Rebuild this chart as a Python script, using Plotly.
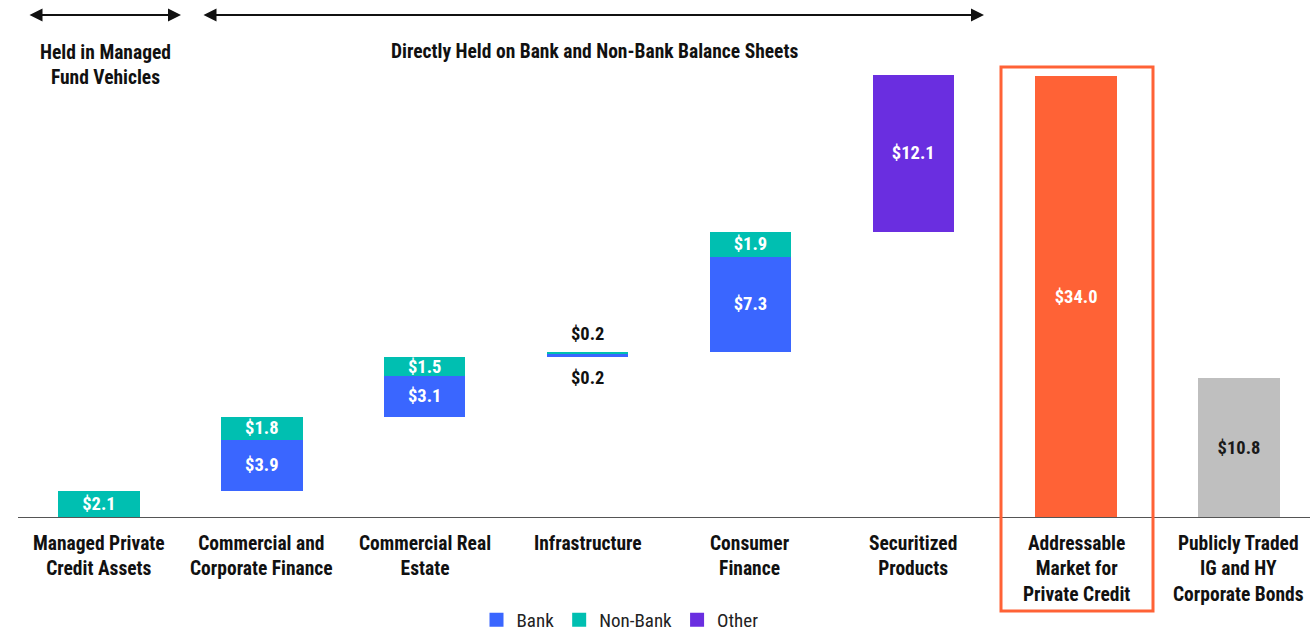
import itertools
import plotly.graph_objects as go

categories = [
    "Managed Private<br>Credit Assets",
    "Commercial and<br>Corporate Finance",
    "Commercial Real<br>Estate",
    "Infrastructure",
    "Consumer<br>Finance",
    "Securitized<br>Products",
    "Addressable<br>Market for<br>Private Credit",
    "Publicly Traded<br>IG and HY<br>Corporate Bonds",
]
bank = [0, 3.9, 3.1, 0.2, 7.3, 0, 0, 0]
nonbank = [2.1, 1.8, 1.5, 0.2, 1.9, 0, 0, 0]
other = [0, 0, 0, 0, 0, 12.1, 0, 0]
addressable = [0, 0, 0, 0, 0, 0, 34.0, 0]
public_bonds = [0, 0, 0, 0, 0, 0, 0, 10.8]

# waterfall base: cumulative sum of the preceding components (first six columns)
steps = [b + n + o for b, n, o in zip(bank, nonbank, other)]
base = [0] + list(itertools.accumulate(steps[:5])) + [0, 0]

OUTSIDE_LABEL_IDX = 3  # infrastructure: labels drawn outside

FONT = "Roboto Condensed, Roboto, sans-serif"
C_BANK = "#3A66FF"
C_NONBANK = "#00BFB1"
C_OTHER = "#6A2EE0"
C_ORANGE = "#FF6236"
C_GRAY = "#BFBFBF"

x = list(range(len(categories)))


def labels(vals, skip=None):
    out = []
    for i, v in enumerate(vals):
        if v == 0 or i == skip:
            out.append("")
        else:
            out.append(f"<b>${v:.1f}</b>")
    return out


fig = go.Figure()
fig.add_bar(x=x, y=base, marker=dict(color="rgba(0,0,0,0)", line=dict(width=0)),
            showlegend=False, hoverinfo="skip", width=0.5)
common = dict(width=0.5, textposition="inside", insidetextanchor="middle",
              constraintext="none", textfont=dict(family=FONT, size=18.5, color="white"),
              marker_line_width=0, showlegend=False)
fig.add_bar(x=x, y=bank, name="Bank", marker_color=C_BANK,
            text=labels(bank, OUTSIDE_LABEL_IDX), **common)
fig.add_bar(x=x, y=nonbank, name="Non-Bank", marker_color=C_NONBANK,
            text=labels(nonbank, OUTSIDE_LABEL_IDX), **common)
fig.add_bar(x=x, y=other, name="Other", marker_color=C_OTHER,
            text=labels(other), **common)
fig.add_bar(x=x, y=addressable, name="Addressable", marker_color=C_ORANGE,
            text=labels(addressable), **common)
common_dark = dict(common)
common_dark["textfont"] = dict(family=FONT, size=18.5, color="#1a1a1a")
fig.add_bar(x=x, y=public_bonds, name="Public", marker_color=C_GRAY,
            text=labels(public_bonds), **common_dark)

# legend entries (square swatches)
for name, col in [("Bank", C_BANK), ("Non-Bank", C_NONBANK), ("Other", C_OTHER)]:
    fig.add_scatter(x=[None], y=[None], mode="markers", name=name,
                    marker=dict(symbol="square", size=14, color=col), hoverinfo="skip")

annotations = []
# category labels
for i, c in enumerate(categories):
    annotations.append(dict(x=i, y=0, xref="x", yref="y", text=f"<b>{c}</b>",
                            showarrow=False, yanchor="top", yshift=-12,
                            font=dict(family=FONT, size=19.5, color="#111")))
# outside labels for infrastructure
i = OUTSIDE_LABEL_IDX
top = base[i] + bank[i] + nonbank[i]
annotations.append(dict(x=i, y=top, xref="x", yref="y", text=f"<b>${nonbank[i]:.1f}</b>",
                        showarrow=False, yanchor="bottom", yshift=5,
                        font=dict(family=FONT, size=18.5, color="#111")))
annotations.append(dict(x=i, y=base[i], xref="x", yref="y", text=f"<b>${bank[i]:.1f}</b>",
                        showarrow=False, yanchor="top", yshift=-8,
                        font=dict(family=FONT, size=18.5, color="#111")))

# header texts
annotations.append(dict(x=(105 - 18) / 1292, y=(518 - 65) / 468, xref="paper", yref="paper",
                        text="<b>Held in Managed<br>Fund Vehicles</b>", showarrow=False,
                        xanchor="center", yanchor="middle",
                        font=dict(family=FONT, size=19.5, color="#111")))
annotations.append(dict(x=(594 - 18) / 1292, y=(518 - 52) / 468, xref="paper", yref="paper",
                        text="<b>Directly Held on Bank and Non-Bank Balance Sheets</b>",
                        showarrow=False, xanchor="center", yanchor="middle",
                        font=dict(family=FONT, size=19.5, color="#111")))
# arrows
for x0, x1 in [(28, 181), (202, 984)]:
    annotations.append(dict(x=(x1 - 18) / 1292, y=(518 - 15) / 468, xref="paper", yref="paper",
                            ax=x0 - x1, ay=0, axref="pixel", ayref="pixel",
                            text="", showarrow=True, arrowhead=2, startarrowhead=2,
                            arrowside="end+start", arrowsize=1.3, startarrowsize=1.3,
                            arrowwidth=2, arrowcolor="#111", standoff=0, startstandoff=0))

shapes = [
    dict(type="line", xref="paper", yref="y", x0=0, x1=1, y0=0, y1=0,
         line=dict(color="#555555", width=2), layer="above"),
    dict(type="rect", xref="paper", yref="paper",
         x0=(1001 - 18) / 1292, x1=(1153 - 18) / 1292,
         y0=(518 - 611) / 468, y1=(518 - 67) / 468,
         line=dict(color=C_ORANGE, width=3), fillcolor="rgba(0,0,0,0)"),
]

fig.update_layout(
    width=1310, height=631,
    margin=dict(l=18, r=0, t=50, b=113),
    barmode="stack",
    plot_bgcolor="white", paper_bgcolor="white",
    xaxis=dict(range=[-0.497, 7.436], visible=False),
    yaxis=dict(range=[0, 36], visible=False),
    showlegend=True,
    legend=dict(orientation="h", xref="container", yref="container",
                x=620 / 1310, xanchor="center",
                y=1 - 620 / 631, yanchor="middle",
                font=dict(family=FONT, size=19, color="#222"),
                itemsizing="trace", traceorder="normal", itemwidth=30),
    annotations=annotations,
    shapes=shapes,
    font=dict(family=FONT),
)

fig.write_html("out.html")
